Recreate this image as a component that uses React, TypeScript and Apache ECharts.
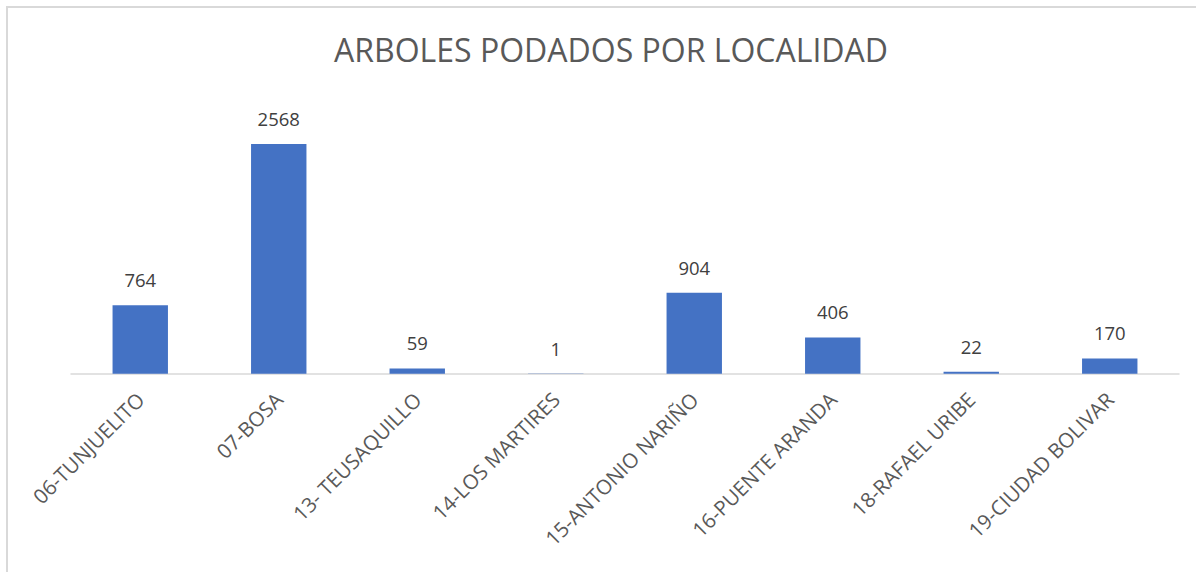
import React, { useEffect, useRef } from "react";
import * as echarts from "echarts";

const categories = [
  "06-TUNJUELITO",
  "07-BOSA",
  "13- TEUSAQUILLO",
  "14-LOS MARTIRES",
  "15-ANTONIO NARIÑO",
  "16-PUENTE ARANDA",
  "18-RAFAEL URIBE",
  "19-CIUDAD BOLIVAR",
];
const values = [764, 2568, 59, 1, 904, 406, 22, 170];
const titleText = "ARBOLES PODADOS POR LOCALIDAD";

export default function App() {
  const ref = useRef<HTMLDivElement>(null);
  useEffect(() => {
    document.body.style.margin = "0";
    document.body.style.overflow = "hidden";
    const chart = echarts.init(ref.current!, null, { renderer: "svg" });
    chart.setOption({
      animation: false,
      backgroundColor: "#ffffff",
      textStyle: { fontFamily: "Open Sans" },
      title: {
        text: titleText,
        left: 606,
        top: 28,
        textAlign: "center",
        textStyle: { fontSize: 32, fontWeight: "normal", color: "#595959", fontFamily: "Open Sans" },
      },
      graphic: [
        {
          type: "polyline",
          shape: { points: [[7, 600], [7, 7], [1200, 7]] },
          style: { stroke: "#d9d9d9", lineWidth: 2, fill: "none" },
          silent: true,
        },
      ],
      grid: { left: 71, right: 17, top: 105.4, bottom: 198.3, containLabel: false },
      xAxis: {
        type: "category",
        data: categories,
        axisLine: { lineStyle: { color: "#d9d9d9", width: 1.5 } },
        axisTick: { show: false },
        axisLabel: {
          rotate: 45,
          interval: 0,
          margin: 22,
          fontSize: 20.5,
          color: "#595959",
          fontFamily: "Open Sans",
        },
      },
      yAxis: {
        type: "value",
        min: 0,
        max: 3000,
        show: false,
        splitLine: { show: false },
      },
      series: [
        {
          type: "bar",
          data: values,
          barCategoryGap: "60%",
          itemStyle: { color: "#4472c4" },
          label: {
            show: true,
            position: "top",
            distance: 16,
            fontSize: 18.5,
            color: "#404040",
            fontFamily: "Open Sans",
          },
        },
      ],
    });
    return () => chart.dispose();
  }, []);
  return <div ref={ref} style={{ width: 1196, height: 572 }} />;
}
